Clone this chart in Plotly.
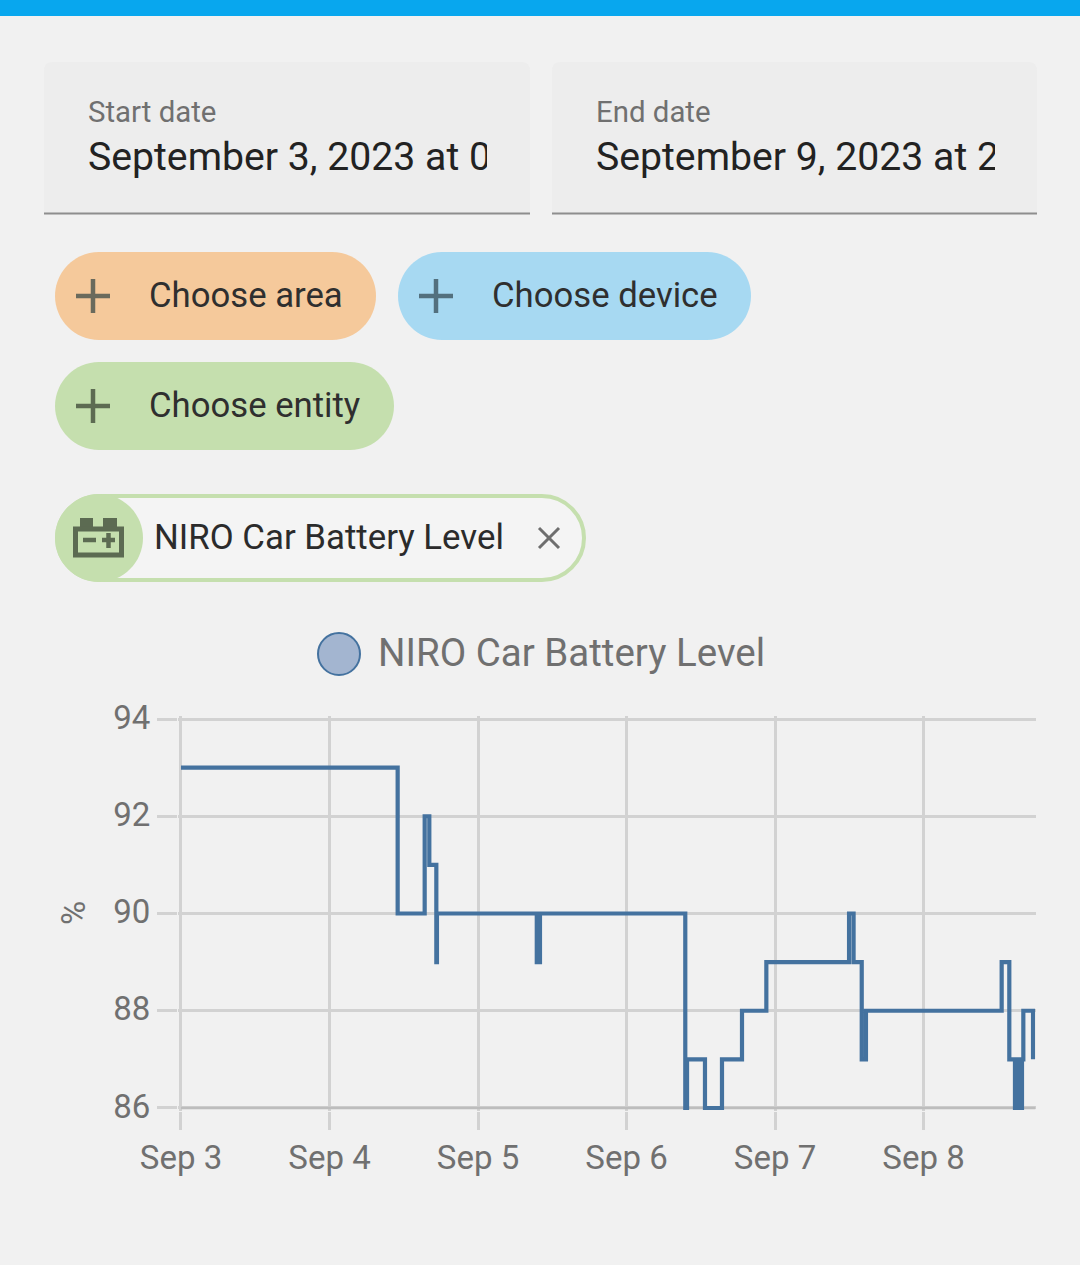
import plotly.graph_objects as go

W, H = 1080, 1265

# battery level readings (step line)
times = [
    "2023-09-03 00:00", "2023-09-04 11:01", "2023-09-04 15:23", "2023-09-04 16:08",
    "2023-09-04 17:16", "2023-09-04 17:22", "2023-09-05 09:30", "2023-09-05 10:01",
    "2023-09-06 09:30", "2023-09-06 09:47", "2023-09-06 12:41", "2023-09-06 15:26",
    "2023-09-06 18:40", "2023-09-06 22:36", "2023-09-07 11:58", "2023-09-07 12:42",
    "2023-09-07 14:01", "2023-09-07 14:42", "2023-09-08 12:38", "2023-09-08 13:52",
    "2023-09-08 14:47", "2023-09-08 15:02", "2023-09-08 15:16", "2023-09-08 15:31",
    "2023-09-08 15:45", "2023-09-08 15:55", "2023-09-08 16:08", "2023-09-08 17:42",
]
levels = [93, 90, 92, 91, 89, 90, 89, 90, 86, 87, 86, 87, 88, 89, 90, 89, 87, 88, 89, 87,
          86, 87, 86, 87, 86, 87, 88, 87]

x_ticks = ["2023-09-03", "2023-09-04", "2023-09-05", "2023-09-06", "2023-09-07", "2023-09-08"]
x_labels = ["Sep 3", "Sep 4", "Sep 5", "Sep 6", "Sep 7", "Sep 8"]
y_ticks = [86, 88, 90, 92, 94]

series_name = "NIRO Car Battery Level"
start_label = "September 3, 2023 at 00:00"
end_label = "September 9, 2023 at 23:59"

PAGE = "#f1f1f1"
GRID = "#d2d2d2"
TICK_TEXT = "#707070"
LINE = "#44729f"
X_END = "2023-09-08 18:06"


def px(x):
    return x / W


def py(y):
    return 1 - y / H


def pt(x, y):
    return f"{px(x):.5f},{py(y):.5f}"


def round_rect(x0, y0, x1, y1, r):
    # rounded box as bezier path, arcs don't work in shape paths
    k = r * 0.45
    return (
        f"M{pt(x0 + r, y0)} L{pt(x1 - r, y0)} "
        f"C{pt(x1 - k, y0)} {pt(x1, y0 + k)} {pt(x1, y0 + r)} "
        f"L{pt(x1, y1 - r)} "
        f"C{pt(x1, y1 - k)} {pt(x1 - k, y1)} {pt(x1 - r, y1)} "
        f"L{pt(x0 + r, y1)} "
        f"C{pt(x0 + k, y1)} {pt(x0, y1 - k)} {pt(x0, y1 - r)} "
        f"L{pt(x0, y0 + r)} "
        f"C{pt(x0, y0 + k)} {pt(x0 + k, y0)} {pt(x0 + r, y0)} Z"
    )


def box(x0, y0, x1, y1, color):
    return dict(type="rect", xref="paper", yref="paper", x0=px(x0), x1=px(x1), y0=py(y0), y1=py(y1),
                fillcolor=color, line_width=0, layer="below")


def seg(x0, y0, x1, y1, color, width):
    return dict(type="line", xref="paper", yref="paper", x0=px(x0), x1=px(x1), y0=py(y0), y1=py(y1),
                line=dict(color=color, width=width), layer="below")


def blob(path, color, line=None, width=0):
    return dict(type="path", xref="paper", yref="paper", path=path, fillcolor=color,
                line=dict(color=line or color, width=width), layer="below")


def label(x, y, text, size, color, anchor="left", **kw):
    return dict(xref="paper", yref="paper", x=px(x), y=py(y), text=text, showarrow=False,
                xanchor=anchor, yanchor="middle", font=dict(family="Roboto", size=size, color=color),
                borderpad=0, borderwidth=0, **kw)


def plus(cx, cy, color):
    return [seg(cx - 17, cy, cx + 17, cy, color, 4.5), seg(cx, cy - 17, cx, cy + 17, color, 4.5)]


shapes = [box(0, 0, W, 16, "#08a7ee")]

# date fields
shapes += [
    blob(round_rect(44, 62, 530, 240, 8), "#ededed"),
    blob(round_rect(552, 62, 1037, 240, 8), "#ededed"),
    box(0, 214, W, 245, PAGE),
    seg(44, 213.5, 530, 213.5, "#8e8e8e", 2),
    seg(552, 213.5, 1037, 213.5, "#8e8e8e", 2),
]

# picker chips
shapes += [
    blob(round_rect(55, 252, 376, 340, 44), "#f5c99b"),
    blob(round_rect(398, 252, 751, 340, 44), "#a7d9f2"),
    blob(round_rect(55, 362, 394, 450, 44), "#c5dfae"),
    blob(round_rect(57, 496, 584, 580, 42), "#f4f4f4", "#c5dfae", 4),
    blob(round_rect(55, 494, 143, 582, 44), "#c5dfae"),
]
shapes += plus(93, 296, "#6a6a5c") + plus(436, 296, "#53707e") + plus(93, 406, "#5d6b52")

# battery icon
icon = "#5c6b52"
shapes += [
    box(80, 518, 93, 527, icon),
    box(103, 518, 117, 527, icon),
    seg(73, 529, 124, 529, icon, 5),
    seg(73, 555, 124, 555, icon, 5),
    seg(75.5, 527, 75.5, 557, icon, 5),
    seg(121.5, 527, 121.5, 557, icon, 5),
    seg(83, 540, 96, 540, icon, 4.5),
    seg(102, 540, 115, 540, icon, 4.5),
    seg(108.5, 533, 108.5, 548, icon, 4.5),
]

# close x
shapes += [
    seg(539, 528, 559, 548, "#6e6e6e", 3),
    seg(539, 548, 559, 528, "#6e6e6e", 3),
]

# legend dot
shapes.append(dict(type="circle", xref="paper", yref="paper", x0=px(318), x1=px(360), y0=py(675), y1=py(633),
                   fillcolor="#a3b5d0", line=dict(color="#44729f", width=2), layer="below"))

# darker base line of the plot
shapes.append(dict(type="line", xref="x", yref="y", x0=times[0], x1=X_END, y0=y_ticks[0], y1=y_ticks[0],
                   line=dict(color="#bdbdbd", width=2.5), layer="between"))

annotations = [
    label(88, 112, "Start date", 29.4, "#707070"),
    label(596, 112, "End date", 29.4, "#707070"),
    label(88, 157.5, start_label, 39.2, "#222222", width=399, height=50, align="left"),
    label(596, 157.5, end_label, 39.2, "#222222", width=399, height=50, align="left"),
    label(149, 295, "Choose area", 34.7, "#2f2f2f"),
    label(492, 295, "Choose device", 34.7, "#2f2f2f"),
    label(149, 405, "Choose entity", 34.7, "#2f2f2f"),
    label(154, 537, series_name, 34.8, "#2b2b2b"),
    label(378, 652, series_name, 38.5, "#707070"),
    label(73, 913, "%", 33, "#707070", anchor="center", textangle=-90),
]

fig = go.Figure(
    data=[
        go.Scatter(
            x=times,
            y=levels,
            name=series_name,
            mode="lines",
            line=dict(color=LINE, width=4.2, shape="hv"),
        )
    ]
)

fig.update_layout(
    width=W,
    height=H,
    margin=dict(l=0, r=0, t=0, b=0),
    paper_bgcolor=PAGE,
    plot_bgcolor="rgba(0,0,0,0)",
    showlegend=False,
    shapes=shapes,
    annotations=annotations,
    font=dict(family="Roboto", color=TICK_TEXT),
    xaxis=dict(
        automargin=False,
        # 3px of slack on the left, plotly drops gridlines sitting on the range edge
        domain=[px(178), px(1035.5)],
        range=["2023-09-02 23:31", X_END],
        tickvals=x_ticks,
        ticktext=x_labels,
        tickfont=dict(size=33, color=TICK_TEXT),
        gridcolor=GRID,
        gridwidth=2.5,
        ticks="outside",
        ticklen=18,
        tickwidth=2.5,
        tickcolor=GRID,
        ticklabelstandoff=-1,
        showline=False,
        zeroline=False,
    ),
    yaxis=dict(
        automargin=False,
        domain=[py(1111), py(716)],
        range=[85.938, 94.062],
        tickvals=y_ticks,
        tickfont=dict(size=33, color=TICK_TEXT),
        gridcolor=GRID,
        gridwidth=2.5,
        ticks="outside",
        ticklen=20,
        tickwidth=2.5,
        tickcolor=GRID,
        ticklabelstandoff=0,
        ticklabelshift=-2,
        showline=False,
        zeroline=False,
    ),
)

fig.write_html("out.html", config=dict(displayModeBar=False),
               post_script="document.body.style.margin='0';")
